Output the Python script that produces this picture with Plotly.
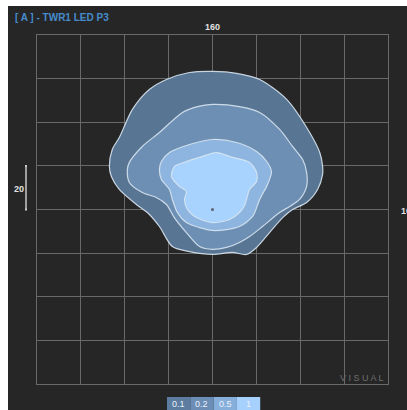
import plotly.graph_objects as go

# ---- data (units; one grid cell = 20) ----
levels = ["0.1", "0.2", "0.5", "1"]

c01_x = [0, 11.0, 21.5, 33.8, 44.3, 48.9, 50.2, 50.2, 47.9, 42.9, 36.5, 32.0, 26.0, 20.1, 15.5, 9.1, 0,
         -10.5, -18.3, -24.2, -29.7, -34.7, -42.5, -46.1, -47.0, -45.7, -42.5, -36.5, -28.8, -21.0, -10.5, 0]
c01_y = [63.3, 62.4, 59.6, 50.5, 35.3, 26.1, 19.7, 16.1, 9.2, 3.2, 0, -3.7, -10.6, -17.4, -20.6, -19.7, -20.6,
         -19.3, -17.0, -7.8, -1.4, 2.3, 9.2, 15.1, 19.7, 27.5, 33.0, 45.9, 55.0, 59.6, 62.8, 63.3]

c02_x = [0, 12.3, 21.5, 30.6, 36.5, 41.1, 42.9, 42.9, 39.7, 35.2, 30.6, 22.8, 16.9, 12.3, 6.4, 0,
         -5.9, -11.9, -17.4, -21.0, -25.6, -32.0, -37.9, -38.8, -37.9, -32.0, -24.2, -13.7, -6.8, 0]
c02_y = [48.2, 47.2, 44.5, 36.7, 28.9, 22.9, 17.0, 10.6, 4.6, 1.4, -1.4, -7.8, -12.4, -15.1, -17.4, -18.3,
         -17.0, -10.6, -3.7, 2.3, 5.5, 7.8, 12.4, 18.3, 21.6, 28.9, 35.3, 44.5, 47.2, 48.2]

c05_x = [0, 11.0, 20.1, 24.7, 26.9, 26.0, 24.7, 21.5, 18.3, 12.3, 6.4, 0,
         -5.9, -11.9, -16.0, -18.3, -19.6, -23.3, -24.2, -23.3, -19.6, -10.5, 0]
c05_y = [32.1, 30.7, 26.6, 22.0, 17.4, 13.8, 10.6, 4.6, -3.2, -7.8, -9.2, -9.6,
         -8.3, -6.0, -1.4, 4.6, 9.2, 13.8, 18.3, 22.0, 26.1, 29.8, 32.1]

c1_x = [1.8, 9.1, 16.9, 20.1, 20.1, 16.9, 15.5, 14.6, 12.3, 7.8, 0,
        -7.3, -11.4, -12.8, -11.9, -15.1, -18.7, -17.4, -11.9, -5.9, 1.8]
c1_y = [26.1, 23.9, 21.6, 17.0, 12.8, 9.2, 4.6, 1.8, -1.4, -4.6, -6.0,
        -3.7, 0, 4.6, 8.3, 10.6, 15.1, 19.7, 22.0, 23.9, 26.1]

fill_colors = ["rgb(88,117,148)", "rgb(110,143,180)", "rgb(141,181,223)", "rgb(168,211,255)"]
legend_colors = ["rgb(92,124,160)", "rgb(108,142,182)", "rgb(134,175,220)", "rgb(166,209,255)"]

title_text = "[ A ] - TWR1 LED P3"
top_label = "160"
left_label = "20"
right_label = "100"
axis_range = [-80, 80]
grid_step = 20

# ---- figure ----
fig = go.Figure()
contours = [(c01_x, c01_y), (c02_x, c02_y), (c05_x, c05_y), (c1_x, c1_y)]
for (xs, ys), col, lv in zip(contours, fill_colors, levels):
    fig.add_trace(go.Scatter(
        x=xs, y=ys, mode="lines", fill="toself", fillcolor=col,
        line=dict(color="rgba(215,228,240,0.9)", width=1.2, shape="spline", smoothing=0.8),
        name=lv, hoverinfo="skip", showlegend=False))

fig.add_trace(go.Scatter(x=[0], y=[0], mode="markers",
                         marker=dict(size=3, color="rgb(90,100,115)"),
                         showlegend=False, hoverinfo="skip"))

grid_col = "rgb(105,105,105)"
axis_common = dict(range=axis_range, dtick=grid_step, tick0=0, showgrid=True, gridcolor=grid_col,
                   gridwidth=1, zeroline=False, showticklabels=False, ticks="",
                   showline=True, linecolor=grid_col, linewidth=1, mirror=True, fixedrange=True)
fig.update_xaxes(**axis_common)
fig.update_yaxes(**axis_common)

L, R, T, B = 37, 19, 35, 26
W, H = 407, 410
pw, ph = W - L - R, H - T - B

def px_x(px):
    return (px - L) / pw

def px_y(py):
    return (H - B - py) / ph

shapes = []
# dark panel behind everything (white strip at top/left)
shapes.append(dict(type="rect", xref="paper", yref="paper", layer="below",
                   x0=px_x(8), x1=px_x(420), y0=px_y(6), y1=px_y(420),
                   fillcolor="rgb(38,38,38)", line=dict(width=0)))
# scale bar for one grid cell
shapes.append(dict(type="line", xref="paper", yref="y", x0=px_x(26), x1=px_x(26), y0=0, y1=grid_step,
                   line=dict(color="rgb(200,200,200)", width=1.5)))
for yy in (0, grid_step):
    shapes.append(dict(type="line", xref="paper", yref="y", x0=px_x(25), x1=px_x(27), y0=yy, y1=yy,
                       line=dict(color="rgb(200,200,200)", width=2)))

annotations = []
# legend boxes
bx = 167
bw = 23.3
for lv, col in zip(levels, legend_colors):
    shapes.append(dict(type="rect", xref="paper", yref="paper",
                       x0=px_x(bx), x1=px_x(bx + bw), y0=px_y(397), y1=px_y(415),
                       fillcolor=col, line=dict(width=0)))
    annotations.append(dict(x=px_x(bx + bw / 2), y=px_y(404), xref="paper", yref="paper",
                            text=lv, showarrow=False, xanchor="center", yanchor="middle",
                            font=dict(family="Liberation Sans", size=9, color="rgb(235,240,248)")))
    bx += bw

annotations += [
    dict(x=px_x(13), y=px_y(17), xref="paper", yref="paper", text="<b>" + title_text + "</b>",
         showarrow=False, xanchor="left", yanchor="middle",
         font=dict(family="Liberation Sans Narrow, Liberation Sans", size=10, color="rgb(70,140,205)")),
    dict(x=0.5, y=px_y(27), xref="paper", yref="paper", text="<b>" + top_label + "</b>",
         showarrow=False, xanchor="center", yanchor="middle",
         font=dict(family="Liberation Sans", size=9, color="rgb(225,225,225)")),
    dict(x=px_x(19), y=px_y(189), xref="paper", yref="paper", text="<b>" + left_label + "</b>",
         showarrow=False, xanchor="center", yanchor="middle",
         font=dict(family="Liberation Sans", size=9, color="rgb(225,225,225)")),
    dict(x=px_x(399), y=px_y(211), xref="paper", yref="paper", text="<b>" + right_label + "</b>",
         showarrow=False, xanchor="left", yanchor="middle",
         font=dict(family="Liberation Sans", size=9, color="rgb(225,225,225)")),
    dict(x=px_x(386), y=px_y(378), xref="paper", yref="paper", text="V I S U A L",
         showarrow=False, xanchor="right", yanchor="middle",
         font=dict(family="Liberation Sans", size=9, color="rgb(110,110,110)")),
]

fig.update_layout(
    width=W, height=H,
    margin=dict(l=L, r=R, t=T, b=B, pad=0),
    paper_bgcolor="white",
    plot_bgcolor="rgb(66,66,66)",
    shapes=shapes,
    annotations=annotations,
    showlegend=False,
)

fig.write_html("out.html", config={"displayModeBar": False},
               post_script="document.body.style.margin='0';document.body.style.overflow='hidden';"
                           "document.documentElement.style.overflow='hidden';")
